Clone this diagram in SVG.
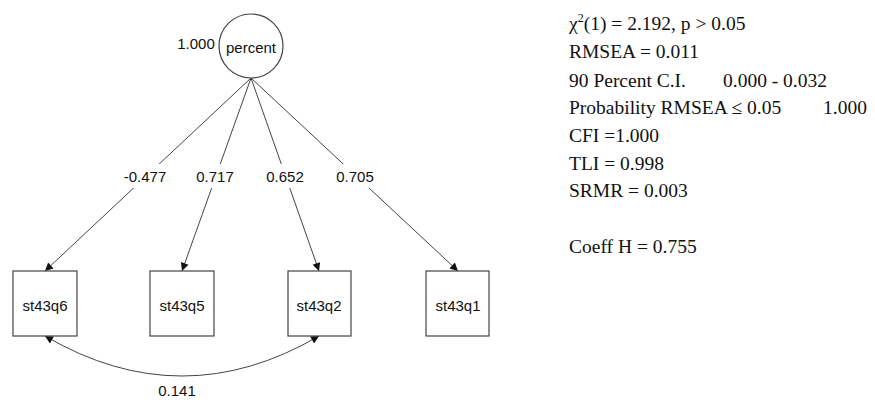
<svg xmlns="http://www.w3.org/2000/svg" width="875" height="400" viewBox="0 0 875 400">
<style>
.lbl{font-family:"Liberation Sans",Arial,sans-serif;font-size:15px;fill:#111;text-anchor:middle}
.stat{font-family:"Liberation Serif","Times New Roman",serif;font-size:19.5px;fill:#111}
.node{fill:#fff;stroke:#444;stroke-width:1.2}
.edge{fill:none;stroke:#444;stroke-width:1}
.bg{fill:#fff}
</style>
<defs>
<marker id="arr" viewBox="0 0 10 10" refX="10" refY="5" markerWidth="9" markerHeight="8" markerUnits="userSpaceOnUse" orient="auto-start-reverse">
<path d="M0,0 L10,5 L0,10 z" fill="#111"/>
</marker>
</defs>
<rect width="875" height="400" fill="#fff"/>
<g id="connectors">
<line class="edge" x1="251" y1="78" x2="45" y2="271" marker-end="url(#arr)"/>
<line class="edge" x1="251" y1="78" x2="182" y2="271" marker-end="url(#arr)"/>
<line class="edge" x1="251" y1="78" x2="319" y2="271" marker-end="url(#arr)"/>
<line class="edge" x1="251" y1="78" x2="458" y2="271" marker-end="url(#arr)"/>
<path class="edge" d="M45,336 Q182,416 319,336" marker-start="url(#arr)" marker-end="url(#arr)"/>
<rect class="bg" x="122" y="164" width="46" height="24"/>
<rect class="bg" x="195" y="164" width="40" height="24"/>
<rect class="bg" x="265" y="164" width="40" height="24"/>
<rect class="bg" x="335" y="164" width="40" height="24"/>
<text class="lbl" x="145" y="182">-0.477</text>
<text class="lbl" x="215" y="182">0.717</text>
<text class="lbl" x="285" y="182">0.652</text>
<text class="lbl" x="355" y="182">0.705</text>
<text class="lbl" x="177" y="396">0.141</text>
</g>
<g id="percent">
<circle class="node" cx="251" cy="46" r="32"/>
<text class="lbl" x="251" y="53">percent</text>
<text class="lbl" x="196" y="49">1.000</text>
</g>
<g id="st43q6">
<rect class="node" x="13" y="271" width="64" height="65"/>
<text class="lbl" x="45" y="311">st43q6</text>
</g>
<g id="st43q5">
<rect class="node" x="150" y="271" width="64" height="65"/>
<text class="lbl" x="182" y="311">st43q5</text>
</g>
<g id="st43q2">
<rect class="node" x="288" y="271" width="63" height="65"/>
<text class="lbl" x="319" y="311">st43q2</text>
</g>
<g id="st43q1">
<rect class="node" x="426" y="271" width="63" height="65"/>
<text class="lbl" x="458" y="311">st43q1</text>
</g>
<g id="stats">
<text class="stat" x="569" y="30">χ<tspan font-size="12" dy="-8">2</tspan><tspan dy="8">(1) = 2.192, p &gt; 0.05</tspan></text>
<text class="stat" x="569" y="58">RMSEA = 0.011</text>
<text class="stat" x="569" y="87">90 Percent C.I.</text>
<text class="stat" x="723" y="87">0.000 - 0.032</text>
<text class="stat" x="569" y="114">Probability RMSEA ≤ 0.05</text>
<text class="stat" x="823" y="114">1.000</text>
<text class="stat" x="569" y="142">CFI =1.000</text>
<text class="stat" x="569" y="170">TLI = 0.998</text>
<text class="stat" x="569" y="197">SRMR = 0.003</text>
<text class="stat" x="569" y="253">Coeff H = 0.755</text>
</g>
</svg>
